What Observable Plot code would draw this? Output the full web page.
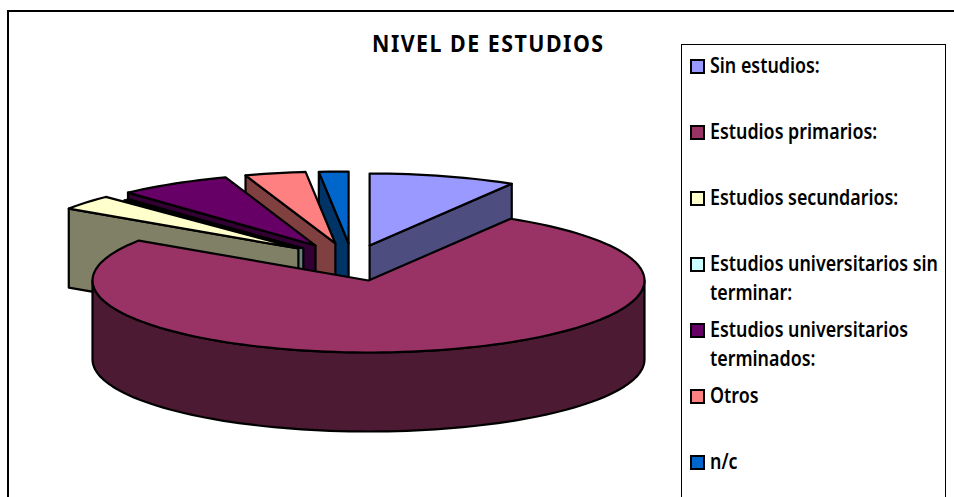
<!DOCTYPE html>
<html><head><meta charset="utf-8">
<script src="https://cdn.jsdelivr.net/npm/d3@7"></script>
<script src="https://cdn.jsdelivr.net/npm/@observablehq/plot@0.6"></script>
<style>
html,body{margin:0;padding:0;background:#fff;overflow:hidden}
#stage{position:relative;width:954px;height:497px;overflow:hidden;font-family:"Noto Sans",sans-serif;color:#000}
#stage svg{position:absolute;left:0;top:0}
#frame{position:absolute;left:7px;top:10px;width:960px;height:500px;border:2px solid #000;box-sizing:border-box}
#title{position:absolute;left:372px;top:27px;font:bold 23px "Noto Sans",sans-serif;letter-spacing:1.6px;white-space:nowrap;transform:scaleX(.93);transform-origin:left top}
#legend{position:absolute;left:681px;top:44px;width:265px;height:470px;border:1.5px solid #000;box-sizing:border-box}
.sw{position:absolute;left:8px;width:11px;height:11px;border:2px solid #000;box-sizing:content-box}
.lb{position:absolute;left:28px;font:600 21px/33px "Noto Sans",sans-serif;white-space:nowrap;transform:scaleX(.85);transform-origin:left top}
</style></head><body><div id="stage"><div id="frame"></div><div id="title"></div><div id="legend"></div></div>
<script>
const chartTitle = "NIVEL DE ESTUDIOS";
const categories = ["Sin estudios:", "Estudios primarios:", "Estudios secundarios:", "Estudios universitarios sin terminar:", "Estudios universitarios terminados:", "Otros", "n/c"];
const legendLines = [["Sin estudios:"], ["Estudios primarios:"], ["Estudios secundarios:"], ["Estudios universitarios sin", "terminar:"], ["Estudios universitarios", "terminados:"], ["Otros"], ["n/c"]];
// slice sizes in degrees of the full circle
const values = [31, 272.7, 12.1, 1.4, 23.8, 12.8, 6.2];
const topColors = ["#9999FF", "#993366", "#FFFFCC", "#CCFFFF", "#660066", "#FF8080", "#0066CC"];
const sideColors = ["#4D4D80", "#4D1A33", "#808066", "#668080", "#330033", "#804040", "#003366"];
// exploded offset of each slice, in pie radii
const explodeX = [0.004, 0, -0.254, -0.236, -0.192, -0.12, -0.072];
const explodeY = [0.486, 0, 0.444, 0.445, 0.486, 0.514, 0.514];
const radii = [1, 1, 1, 0.93, 1, 1, 1];
const depth = 1.097;

// Angles run clockwise from 12 o'clock.
let acc = 0;
const slices = values.map((v, i) => {
  const s = {i, start: acc, end: acc + v, ox: explodeX[i], oy: explodeY[i], r: radii[i]};
  acc += v;
  return s;
});
const rad = a => a * Math.PI / 180;
const onRim = (s, a, z = 0) => ({x: s.ox + s.r * Math.sin(rad(a)), y: s.oy + s.r * Math.cos(rad(a)) - z});
const apex = (s, z = 0) => ({x: s.ox, y: s.oy - z});
const arc = (s, a0, a1, z = 0) => d3.range(a0, a1, 2).concat([a1]).map(a => onRim(s, a, z));
const topFace = s => [apex(s), ...arc(s, s.start, s.end)];
const cutFace = (s, a) => [apex(s), onRim(s, a), onRim(s, a, depth), apex(s, depth)];
const wall = (s, a0, a1) => [...arc(s, a0, a1), ...arc(s, a0, a1, depth).reverse()];

const poly = (pts, fill) => Plot.line(pts, {x: "x", y: "y", fill, stroke: "#000", strokeWidth: 2.2, strokeLinejoin: "round", curve: "linear-closed"});
const marks = [];
// paint from the back of the pie to the front
for (const i of [6, 5, 4, 3, 2]) {
  const s = slices[i];
  marks.push(poly(cutFace(s, s.start), sideColors[i]), poly(topFace(s), topColors[i]));
}
marks.push(poly(cutFace(slices[0], slices[0].end), sideColors[0]), poly(topFace(slices[0]), topColors[0]));
marks.push(poly(wall(slices[1], 90, 270), sideColors[1]), poly(topFace(slices[1]), topColors[1]));

const chart = Plot.plot({
  width: 954, height: 497, margin: 0,
  x: {type: "linear", domain: [-1, 1], range: [92, 644], axis: null},
  y: {type: "linear", domain: [0, 1], range: [280, 208], axis: null},
  style: {background: "transparent", overflow: "visible"},
  marks
});
document.getElementById("stage").appendChild(chart);

document.getElementById("title").textContent = chartTitle;
const legend = document.getElementById("legend");
const rowTops = [5, 71, 137, 203, 269, 335, 401];
legendLines.forEach((lines, i) => {
  const sw = document.createElement("div");
  sw.className = "sw"; sw.style.top = (rowTops[i] + 9) + "px"; sw.style.background = topColors[i];
  legend.appendChild(sw);
  lines.forEach((t, j) => {
    const lb = document.createElement("div");
    lb.className = "lb"; lb.textContent = t; lb.style.top = (rowTops[i] + j * 29 - 1) + "px";
    legend.appendChild(lb);
  });
});
</script></body></html>
